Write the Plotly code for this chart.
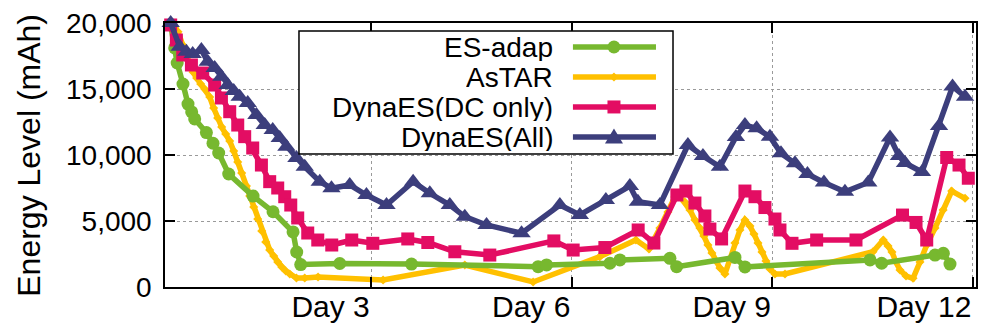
import plotly.graph_objects as go

# ---------------- data (day index, energy level in mAh) ----------------
es_adap_day = [0, 0.06, 0.097, 0.184, 0.259, 0.314, 0.359, 0.534, 0.633, 0.718, 0.868, 1.232, 1.531,
               1.83, 1.885, 1.945, 2.529, 3.602, 5.496, 5.622, 6.569, 6.719, 7.467, 7.567, 8.44, 8.589,
               10.46, 10.634, 11.432, 11.556, 11.656]
es_adap_mah = [19850, 18110, 16970, 15380, 13860, 13260, 12730, 11700, 10890, 10150, 8560, 6890, 5700,
               4170, 2650, 1700, 1780, 1740, 1540, 1670, 1800, 2050, 2170, 1540, 2240, 1520,
               2050, 1800, 2420, 2550, 1740]

astar_day = [0, 0.06, 0.109, 0.18, 0.239, 0.284, 0.334, 0.389, 0.449, 0.509, 0.584, 0.643, 0.703,
             0.763, 0.823, 0.883, 0.943, 1.003, 1.062, 1.133, 1.182, 1.242, 1.302, 1.362, 1.422,
             1.481, 1.541, 1.601, 1.661, 1.721, 1.781, 1.881, 2.005, 2.204, 3.177, 4.399, 5.421,
             6.419, 6.958, 7.153, 7.317, 7.437, 7.541, 7.616, 7.691, 7.766, 7.841, 7.916, 7.975,
             8.035, 8.095, 8.155, 8.215, 8.29, 8.365, 8.439, 8.514, 8.589, 8.664, 8.724, 8.784,
             8.844, 8.903, 8.963, 9.038, 9.188, 10.504, 10.658, 10.729, 10.788, 10.848, 10.908,
             10.998, 11.103, 11.207, 11.308, 11.432, 11.553, 11.682, 11.881]
astar_mah = [20000, 19700, 19340, 18330, 17430, 16820, 16290, 15830, 15380, 15000, 14390, 13560, 12800,
             12120, 11590, 11060, 10300, 9470, 8640, 7650, 6890, 6060, 5150, 4240, 3410,
             2800, 2350, 1890, 1520, 1210, 990, 680, 680, 760, 530, 1670, 380,
             2300, 3560, 2880, 4470, 5680, 6820, 6890, 6440, 5830, 5080, 4470, 3860,
             3180, 2580, 1970, 1440, 990, 2050, 3330, 4320, 5080, 4620, 4020, 3330,
             2650, 1970, 1360, 990, 990, 2670, 3560, 3110, 2650, 1890, 1290,
             830, 660, 1890, 3180, 4470, 5830, 7270, 6720]

dc_day = [0, 0.085, 0.18, 0.31, 0.479, 0.658, 0.759, 0.883, 1.003, 1.107, 1.227, 1.357, 1.481, 1.601,
          1.706, 1.796, 1.9, 2.05, 2.2, 2.409, 2.708, 3.023, 3.546, 3.846, 4.25, 4.773, 5.731, 6.02,
          6.494, 6.992, 7.227, 7.571, 7.706, 7.841, 7.99, 8.065, 8.24, 8.589, 8.739, 8.888, 9.038,
          9.113, 9.293, 9.662, 10.25, 10.946, 11.148, 11.308, 11.607, 11.791, 11.93]
dc_mah = [19850, 18710, 17580, 16820, 16210, 15300, 14320, 13280, 12270, 11390, 10530, 9240, 7980, 7500,
          6840, 6210, 5230, 4090, 3560, 3180, 3560, 3310, 3640, 3370, 2670, 2420, 3490, 2800,
          2990, 4320, 3330, 6970, 7270, 6360, 5380, 4390, 3640, 7270, 6840, 6020, 5150,
          4320, 3310, 3560, 3560, 5450, 4890, 3560, 9810, 9240, 8240]

all_day = [0, 0.135, 0.235, 0.329, 0.459, 0.554, 0.658, 0.759, 0.853, 0.943, 1.032, 1.152, 1.282,
           1.407, 1.526, 1.631, 1.731, 1.881, 2.005, 2.23, 2.405, 2.678, 2.928, 3.228, 3.626, 3.876,
           4.175, 4.399, 4.724, 5.248, 5.821, 6.12, 6.509, 6.868, 6.988, 7.317, 7.736, 7.961, 8.215,
           8.454, 8.589, 8.764, 8.963, 9.128, 9.337, 9.524, 9.771, 10.085, 10.434, 10.759, 10.893,
           10.983, 11.237, 11.492, 11.694, 11.881]
all_mah = [20000, 18210, 17830, 17650, 17960, 17070, 16590, 15930, 15300, 14850, 14420, 13940, 13030,
           12270, 11890, 11290, 10630, 9770, 9110, 7980, 7480, 7730, 6970, 6210, 7980, 7100,
           6210, 5330, 4700, 4070, 6210, 5460, 6590, 7650, 6460, 6210, 10760, 9920, 9110,
           11360, 12270, 12020, 11390, 10130, 9370, 8560, 7920, 7220, 7920, 11330, 9920,
           9390, 8710, 12200, 15190, 14420]

x_tick_vals = [3, 6, 9, 12]
x_tick_text = ["Day 3", "Day 6", "Day 9", "Day 12"]
y_tick_vals = [0, 5000, 10000, 15000, 20000]
y_tick_text = ["0", "5,000", "10,000", "15,000", "20,000"]

for a, b in [(es_adap_day, es_adap_mah), (astar_day, astar_mah), (dc_day, dc_mah), (all_day, all_mah)]:
    assert len(a) == len(b), (len(a), len(b))

# ---------------- styles ----------------
GREEN = "#77B82F"
YELLOW = "#FFC000"
CRIMSON = "#E30D63"
NAVY = "#3C3E7C"
FONT = "Liberation Sans, Arial, sans-serif"

series = {
    "ES-adap": dict(x=es_adap_day, y=es_adap_mah, color=GREEN, symbol="circle", size=13, lw=5.5),
    "AsTAR": dict(x=astar_day, y=astar_mah, color=YELLOW, symbol="diamond", size=7, lw=5.5),
    "DynaES(DC only)": dict(x=dc_day, y=dc_mah, color=CRIMSON, symbol="square", size=13, lw=5.5),
    "DynaES(All)": dict(x=all_day, y=all_mah, color=NAVY, symbol="triangle-up", size=16, lw=5.5),
}
legend_order = ["ES-adap", "AsTAR", "DynaES(DC only)", "DynaES(All)"]
draw_order = ["AsTAR", "ES-adap", "DynaES(DC only)", "DynaES(All)"]

fig = go.Figure()
for name in draw_order:
    s = series[name]
    fig.add_trace(go.Scatter(
        x=s["x"], y=s["y"], name=name, mode="lines+markers",
        line=dict(color=s["color"], width=s["lw"]),
        marker=dict(symbol=s["symbol"], size=s["size"], color=s["color"], line=dict(width=0)),
        cliponaxis=False,
    ))

axis_common = dict(
    showline=True, linecolor="black", linewidth=1.5, mirror="allticks",
    ticks="inside", ticklen=10, tickwidth=1.5, tickcolor="black",
    showgrid=True, gridcolor="#9A9A9A", gridwidth=1, griddash="dot",
    zeroline=False, automargin=False,
)
fig.update_xaxes(
    range=[-0.085, 12.045], tickmode="array", tickvals=x_tick_vals, ticktext=x_tick_text,
    tickfont=dict(family=FONT, size=30, color="black"), ticklabelposition="outside left",
    ticklabelstandoff=-8,
    **axis_common,
)
fig.update_yaxes(
    range=[0, 20000], tickmode="array", tickvals=y_tick_vals, ticktext=y_tick_text,
    tickfont=dict(family=FONT, size=28, color="black"), ticklabelstandoff=6,
    **axis_common,
)

# ---------------- custom legend (text right-aligned, sample on the right) ----------------
box = dict(x0=0.1652, x1=0.6264, y0=0.5038, y1=0.9697)
rows_y = [0.909, 0.795, 0.682, 0.568]
text_right = 0.481
sample_x0, sample_x1, marker_x = 0.503, 0.6054, 0.5536

shapes = [dict(type="rect", xref="paper", yref="paper", layer="above",
               line=dict(color="black", width=1.5), fillcolor="white", **box)]
annotations = []
marker_paths = {
    "diamond": "M -4.5 0 L 0 4.5 L 4.5 0 L 0 -4.5 Z",
    "triangle-up": "M -9 -6.5 L 9 -6.5 L 0 8.5 Z",
}
for name, ry in zip(legend_order, rows_y):
    s = series[name]
    annotations.append(dict(xref="paper", yref="paper", x=text_right, y=ry, xanchor="right",
                            yanchor="middle", text=name, showarrow=False, height=28,
                            font=dict(family=FONT, size=28, color="black")))
    shapes.append(dict(type="line", xref="paper", yref="paper", x0=sample_x0, x1=sample_x1,
                       y0=ry, y1=ry, layer="above", line=dict(color=s["color"], width=s["lw"])))
    common = dict(xref="paper", yref="paper", xsizemode="pixel", ysizemode="pixel",
                  xanchor=marker_x, yanchor=ry, layer="above", fillcolor=s["color"],
                  line=dict(width=0))
    h = s["size"] / 2
    if s["symbol"] == "circle":
        shapes.append(dict(type="circle", x0=-h, x1=h, y0=-h, y1=h, **common))
    elif s["symbol"] == "square":
        shapes.append(dict(type="rect", x0=-h, x1=h, y0=-h, y1=h, **common))
    else:
        shapes.append(dict(type="path", path=marker_paths[s["symbol"]], **common))

annotations.append(dict(xref="paper", yref="paper", x=-0.168, y=0.5, xanchor="center",
                        yanchor="middle", text="Energy Level (mAh)", textangle=-90,
                        showarrow=False, font=dict(family=FONT, size=32, color="black")))

fig.update_layout(
    width=984, height=329,
    margin=dict(l=165, r=8, t=23, b=42, pad=0),
    plot_bgcolor="white", paper_bgcolor="white",
    showlegend=False,
    font=dict(family=FONT, color="black"),
    shapes=shapes, annotations=annotations,
)

fig.write_html("out.html")
